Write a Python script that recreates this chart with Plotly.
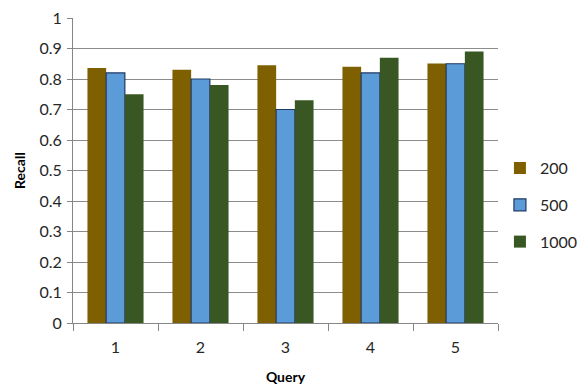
import plotly.graph_objects as go

queries = ["1", "2", "3", "4", "5"]
series_names = ["200", "500", "1000"]
recall_200 = [0.836, 0.83, 0.845, 0.84, 0.851]
recall_500 = [0.82, 0.80, 0.70, 0.82, 0.85]
recall_1000 = [0.75, 0.78, 0.73, 0.87, 0.89]
y_ticks = [0, 0.1, 0.2, 0.3, 0.4, 0.5, 0.6, 0.7, 0.8, 0.9, 1]
y_tick_labels = ["0", "0.1", "0.2", "0.3", "0.4", "0.5", "0.6", "0.7", "0.8", "0.9", "1"]

colors = ["#7F6000", "#5A9BD8", "#385723"]
line_colors = ["#7F6000", "#1F3864", "#385723"]
values = [recall_200, recall_500, recall_1000]

fig = go.Figure()
for i, (name, vals) in enumerate(zip(series_names, values)):
    fig.add_trace(go.Bar(
        x=queries, y=vals, name=name,
        legendgroup=name,
        marker=dict(color=colors[i], line=dict(color=line_colors[i], width=1.2 if i == 1 else 0)),
    ))

font_family = "Lato, 'Open Sans', sans-serif"
fig.update_layout(
    width=582, height=387,
    margin=dict(l=73, r=84, t=18, b=64, autoexpand=False),
    paper_bgcolor="white", plot_bgcolor="white",
    barmode="group", bargap=0.34, bargroupgap=0,
    font=dict(family=font_family, size=16, color="#262626"),
    showlegend=True,
    legend=dict(xref="container", yref="container",
                x=0.859, y=0.47, xanchor="left", yanchor="middle",
                font=dict(size=16, color="#262626"),
                traceorder="grouped", tracegroupgap=13,
                itemwidth=30, bgcolor="rgba(0,0,0,0)"),
    xaxis=dict(
        title=dict(text="<b>Query</b>", font=dict(size=14, color="#000"), standoff=16),
        showline=True, linecolor="#868686", linewidth=1,
        ticks="outside", tickson="boundaries", ticklen=7, tickcolor="#868686",
        showgrid=False, automargin=False,
        tickfont=dict(size=16), ticklabelstandoff=10,
    ),
    yaxis=dict(
        title=dict(text="<b>Recall</b>", font=dict(size=14, color="#000"), standoff=10),
        range=[0, 1], tickvals=y_ticks, ticktext=y_tick_labels,
        showline=True, linecolor="#868686", linewidth=1,
        ticks="outside", ticklen=5, tickcolor="#868686",
        showgrid=True, gridcolor="#8C8C8C", gridwidth=1,
        zeroline=False, automargin=False,
        tickfont=dict(size=16), ticklabelstandoff=2,
    ),
)

fig.write_html("out.html", config={"displayModeBar": False},
               post_script="document.body.style.margin='0';")
